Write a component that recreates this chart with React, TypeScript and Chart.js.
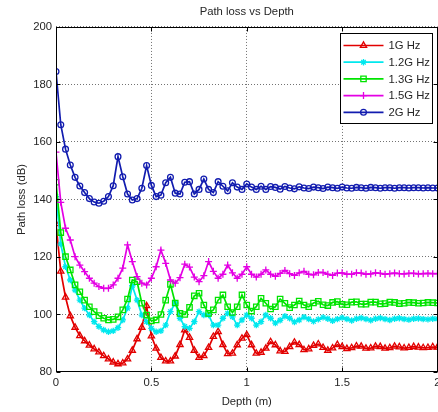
import React, { useEffect, useRef } from "react";
import { Chart, registerables } from "chart.js";
import { drawPoint } from "chart.js/helpers";

Chart.register(...registerables);

const depth = [
  0, 0.025, 0.05, 0.075, 0.1, 0.125, 0.15, 0.175, 0.2, 0.225,
  0.25, 0.275, 0.3, 0.325, 0.35, 0.375, 0.4, 0.425, 0.45, 0.475,
  0.5, 0.525, 0.55, 0.575, 0.6, 0.625, 0.65, 0.675, 0.7, 0.725,
  0.75, 0.775, 0.8, 0.825, 0.85, 0.875, 0.9, 0.925, 0.95, 0.975,
  1, 1.025, 1.05, 1.075, 1.1, 1.125, 1.15, 1.175, 1.2, 1.225,
  1.25, 1.275, 1.3, 1.325, 1.35, 1.375, 1.4, 1.425, 1.45, 1.475,
  1.5, 1.525, 1.55, 1.575, 1.6, 1.625, 1.65, 1.675, 1.7, 1.725,
  1.75, 1.775, 1.8, 1.825, 1.85, 1.875, 1.9, 1.925, 1.95, 1.975,
  2,
];

const loss1G = [
  131.5, 115, 106, 99.5, 95.5, 92.6, 90.8, 89.3, 88, 86.9,
  85.6, 84.5, 83.4, 82.8, 83.1, 84.5, 87.5, 91.5, 95.5, 103,
  92.5, 88.2, 85, 83.8, 83.8, 85.5, 89.5, 94.6, 92, 87.5,
  85, 85.6, 88.5, 92.3, 94, 89.5, 86.3, 86.5, 89.4, 91.7,
  92.9, 89.4, 86.5, 86.8, 88.2, 90.5, 89.4, 87.3, 87.1, 88.8,
  90.3, 89.5, 87.7, 88, 89.2, 89.7, 88.5, 87.5, 88.3, 89.5,
  88.8, 88.1, 88.4, 89, 88.9, 88.2, 88.3, 88.9, 88.8, 88.2,
  88.4, 88.9, 88.7, 88.3, 88.5, 88.8, 88.6, 88.4, 88.5, 88.7,
  88.6,
];

const loss12G = [
  141, 124.5, 116.6, 112, 108.5, 105, 102.2, 99.8, 97.5, 95.8,
  94.6, 94, 94.3, 95.4, 98.1, 102.2, 110, 105, 99.8, 97.5,
  95.2, 94, 94.3, 96.3, 101, 104, 98.7, 95.8, 95.2, 97.5,
  101, 99.8, 99.8, 96.3, 96.3, 98.7, 100.4, 99.2, 96.3, 98.1,
  99.8, 98.7, 96.3, 97.5, 99.8, 98.7, 97, 98, 99.4, 98.7,
  97.4, 98.1, 99.1, 98.4, 97.6, 98.3, 99, 98.5, 97.8, 98.4,
  98.9, 98.4, 97.9, 98.5, 98.8, 98.4, 98, 98.5, 98.8, 98.4,
  98.1, 98.5, 98.7, 98.4, 98.2, 98.5, 98.6, 98.4, 98.3, 98.5,
  98.5,
];

const loss13G = [
  146, 128.5, 120.1, 115.5, 110.3, 107.9, 105, 102.7, 101, 99.6,
  98.7, 98.1, 98.3, 99.2, 101.6, 105.4, 112, 111.4, 103.9, 99.8,
  97.8, 98.1, 100, 105, 110.5, 104, 100.4, 100, 102.5, 106.5,
  107.4, 103.3, 100.4, 101.6, 105, 106.8, 102.7, 100.7, 102.7, 106.8,
  103.3, 101.2, 102.7, 105.6, 103.9, 101.9, 102.7, 105.4, 103.9, 102.4,
  103.3, 104.7, 103.3, 102.7, 104, 104.6, 103.4, 103.1, 104.2, 104.5,
  103.5, 103.4, 104.3, 104.4, 103.6, 103.6, 104.3, 104.3, 103.7, 103.8,
  104.3, 104.2, 103.8, 103.9, 104.2, 104.1, 103.9, 104, 104.2, 104.1,
  104,
];

const loss15G = [
  156.5, 139, 130, 125.9, 120.1, 117.2, 114.9, 112.6, 110.9, 109.7,
  109.1, 109.1, 110.3, 112.6, 116.1, 124.2, 118.4, 113.2, 110.9, 110.3,
  112.6, 116.6, 122.4, 117.8, 112, 110.9, 112.8, 117.5, 116.5, 113,
  111.4, 113.5, 118.4, 115, 112.6, 114, 117.2, 114.5, 112.6, 114,
  116.6, 114, 113, 114, 115.5, 114, 113.3, 114.3, 115.3, 114.2,
  113.6, 114.5, 115, 114, 113.8, 114.6, 114.6, 114, 113.6, 114.4,
  114.5, 114, 114, 114.5, 114.4, 114, 114.1, 114.5, 114.3, 114,
  114.2, 114.4, 114.2, 114.1, 114.3, 114.3, 114.1, 114.2, 114.3, 114.2,
  114.2,
];

const loss2G = [
  184.5, 166, 157.5, 152, 147.7, 144.7, 142.4, 140.3, 139.1, 138.7,
  139.4, 141, 144.8, 154.9, 147.9, 141.9, 139.8, 140.3, 143.9, 151.8,
  144.9, 141, 141.5, 145.8, 147.7, 142.2, 141.9, 146, 146.2, 141.9,
  143.5, 147.1, 143.5, 142.4, 146.2, 144.6, 143, 145.8, 144.3, 143.5,
  145.4, 144.3, 143.5, 144.6, 143.5, 144.5, 144.2, 143.6, 144.5, 144,
  143.7, 144.4, 144, 143.8, 144.3, 144.1, 143.8, 144.3, 144.1, 143.9,
  144.3, 144, 143.9, 144.2, 144.1, 143.9, 144.2, 144.1, 143.9, 144.1,
  144.1, 143.9, 144.1, 144.1, 144, 144.1, 144.1, 144, 144.1, 144,
  144,
];

const seriesLabels = ["1G Hz", "1.2G Hz", "1.3G Hz", "1.5G Hz", "2G Hz"];
const xTicks = [0, 0.5, 1, 1.5, 2];
const yTicks = [80, 100, 120, 140, 160, 180, 200];

const FONT = '"Liberation Sans", Arial, sans-serif';
const FSIZE = 11.3;
const TEXT = "#262626";

const styles = [
  { color: "rgb(226,0,0)", point: "triangle", radius: 3.6 },
  { color: "rgb(0,232,238)", point: "star", radius: 3.2 },
  { color: "rgb(0,228,0)", point: "rect", radius: 3.8 },
  { color: "rgb(228,0,228)", point: "cross", radius: 3.5 },
  { color: "rgb(18,28,175)", point: "circle", radius: 2.9 },
];

const framePlugin = {
  id: "frame",
  afterDatasetsDraw(chart: any) {
    const { ctx, chartArea: a, scales } = chart;
    const xs = scales.x;
    const ys = scales.y;
    ctx.save();
    ctx.strokeStyle = "#000";
    ctx.lineWidth = 1;
    ctx.setLineDash([]);
    const L = Math.round(a.left) + 0.5;
    const R = Math.round(a.right) - 0.5;
    const T = Math.round(a.top) + 0.5;
    const B = Math.round(a.bottom) - 0.5;
    ctx.strokeRect(L, T, R - L, B - T);
    const tl = 4;
    ctx.beginPath();
    for (const v of yTicks) {
      const p = Math.round(ys.getPixelForValue(v)) + 0.5;
      ctx.moveTo(L, p);
      ctx.lineTo(L + tl, p);
      ctx.moveTo(R, p);
      ctx.lineTo(R - tl, p);
    }
    for (const v of xTicks) {
      const p = Math.round(xs.getPixelForValue(v)) + 0.5;
      ctx.moveTo(p, B);
      ctx.lineTo(p, B - tl);
      ctx.moveTo(p, T);
      ctx.lineTo(p, T + tl);
    }
    ctx.stroke();

    // legend inside the axes (north-east)
    const bx = Math.round(a.right) - 98 + 0.5;
    const by = Math.round(a.top) + 6 + 0.5;
    const bw = 92;
    const bh = 90;
    ctx.fillStyle = "#fff";
    ctx.fillRect(bx, by, bw, bh);
    ctx.strokeStyle = "#000";
    ctx.lineWidth = 1;
    ctx.strokeRect(bx, by, bw, bh);
    ctx.font = `${FSIZE}px ${FONT}`;
    ctx.textBaseline = "middle";
    ctx.textAlign = "left";
    seriesLabels.forEach((lab, k) => {
      const s = styles[k];
      const yy = by + 12 + k * 16.7;
      ctx.strokeStyle = s.color;
      ctx.lineWidth = 1.7;
      ctx.beginPath();
      ctx.moveTo(bx + 3, yy);
      ctx.lineTo(bx + 43, yy);
      ctx.stroke();
      ctx.lineWidth = 1.3;
      ctx.fillStyle = "rgba(0,0,0,0)";
      drawPoint(
        ctx,
        { pointStyle: s.point, radius: s.radius, rotation: 0, borderWidth: 1.3 } as any,
        bx + 23,
        yy
      );
      ctx.fillStyle = TEXT;
      ctx.fillText(lab, bx + 48, yy + 0.5);
    });
    ctx.restore();
  },
};

export default function App() {
  const ref = useRef<HTMLCanvasElement>(null);

  useEffect(() => {
    if (!ref.current) return;
    const allSeries = [loss1G, loss12G, loss13G, loss15G, loss2G];
    const datasets = allSeries.map((vals, k) => ({
      label: seriesLabels[k],
      data: vals.map((v, i) => ({ x: depth[i], y: v })),
      borderColor: styles[k].color,
      backgroundColor: "rgba(0,0,0,0)",
      borderWidth: 1.7,
      pointStyle: styles[k].point,
      pointRadius: styles[k].radius,
      pointBorderWidth: 1.3,
      pointBorderColor: styles[k].color,
      pointBackgroundColor: "rgba(0,0,0,0)",
      tension: 0,
      order: 5 - k,
    }));

    const chart = new Chart(ref.current, {
      type: "line",
      data: { datasets },
      plugins: [framePlugin],
      options: {
        animation: false,
        responsive: false,
        devicePixelRatio: 1,
        layout: { padding: { left: 0, right: 22.5, top: 0, bottom: 0 } },
        plugins: {
          legend: { display: false },
          tooltip: { enabled: false },
          title: {
            display: true,
            text: "Path loss vs Depth",
            fullSize: false,
            color: TEXT,
            font: { family: FONT, size: FSIZE, weight: "normal" },
            padding: { top: 5.5, bottom: 7.9 },
          },
        },
        scales: {
          x: {
            type: "linear",
            min: 0,
            max: 2,
            afterBuildTicks: (s: any) => {
              s.ticks = xTicks.map((v) => ({ value: v }));
            },
            afterFit: (s: any) => {
              s.height = 40;
            },
            grid: { color: "rgba(0,0,0,0.55)", lineWidth: 1, drawTicks: false },
            border: { display: false, dash: [1, 2] },
            ticks: {
              color: TEXT,
              font: { family: FONT, size: FSIZE },
              padding: 4,
              maxRotation: 0,
              callback: (v: any) => String(v),
            },
            title: {
              display: true,
              text: "Depth (m)",
              color: TEXT,
              font: { family: FONT, size: FSIZE },
              padding: { top: 0, bottom: 3.2 },
            },
          },
          y: {
            type: "linear",
            min: 80,
            max: 200,
            afterBuildTicks: (s: any) => {
              s.ticks = yTicks.map((v) => ({ value: v }));
            },
            afterFit: (s: any) => {
              s.width = 56;
            },
            grid: { color: "rgba(0,0,0,0.55)", lineWidth: 1, drawTicks: false },
            border: { display: false, dash: [1, 2] },
            ticks: {
              color: TEXT,
              font: { family: FONT, size: FSIZE },
              padding: 4,
              callback: (v: any) => String(v),
            },
            title: {
              display: true,
              text: "Path loss (dB)",
              color: TEXT,
              font: { family: FONT, size: FSIZE },
              padding: { top: 15.2, bottom: 0 },
            },
          },
        },
      } as any,
    });
    return () => chart.destroy();
  }, []);

  return (
    <div
      style={{
        position: "fixed",
        left: 0,
        top: 0,
        width: 438,
        height: 412,
        overflow: "hidden",
        background: "#fff",
      }}
    >
      <canvas ref={ref} width={460} height={412} style={{ display: "block" }} />
    </div>
  );
}
